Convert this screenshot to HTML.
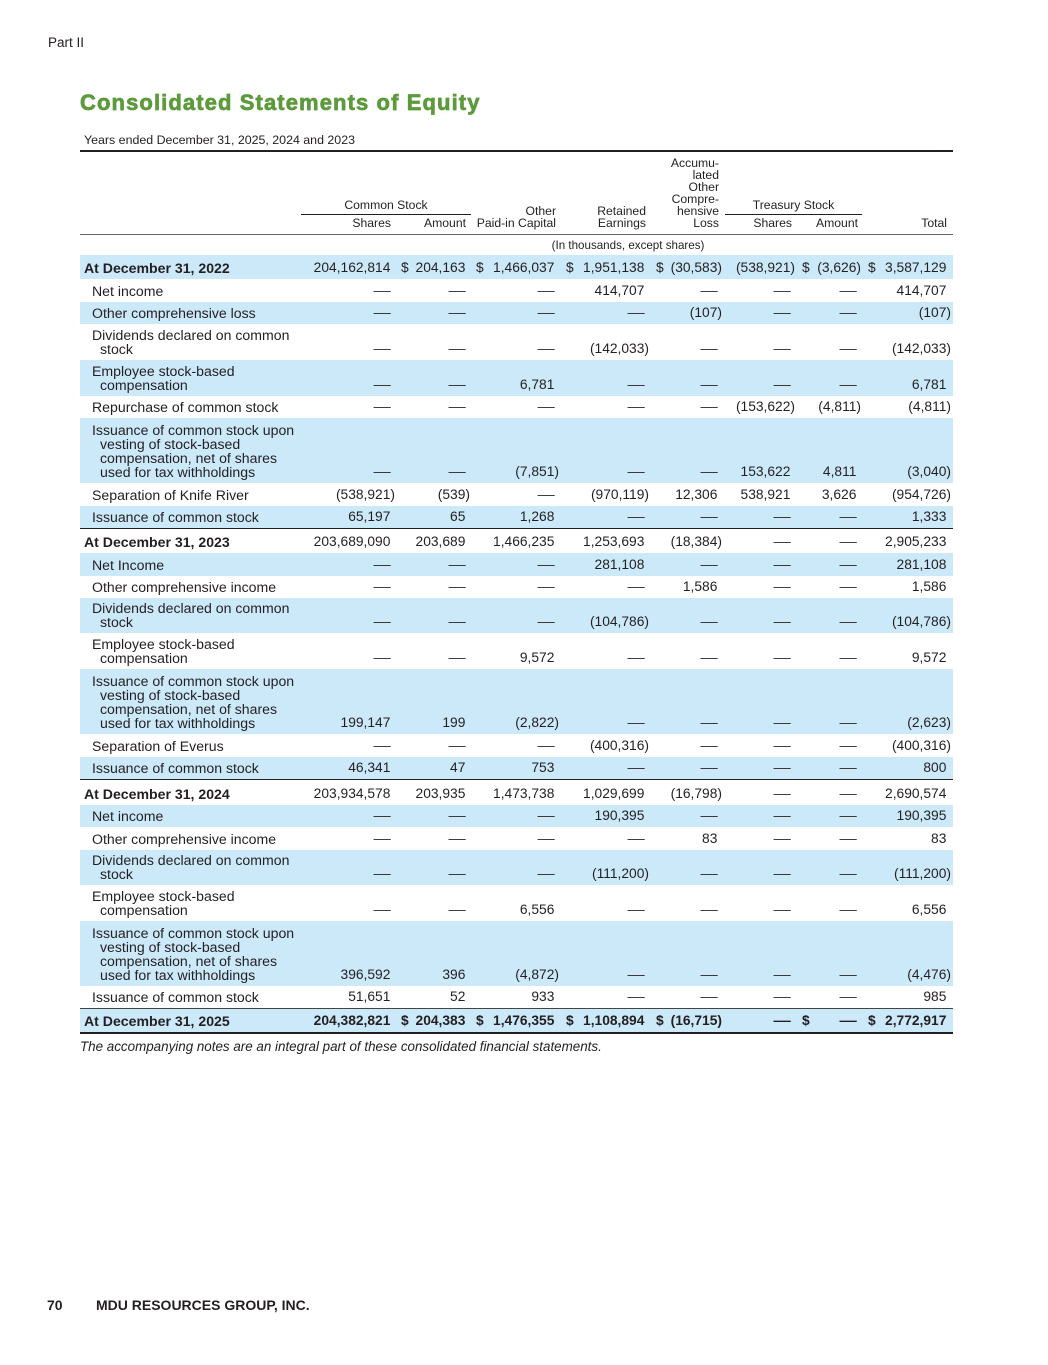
<!DOCTYPE html>
<html><head><meta charset="utf-8">
<style>
*{margin:0;padding:0;box-sizing:border-box}
html,body{width:1048px;height:1365px;background:#fff}
body{position:relative;font-family:"Liberation Sans",Arial,sans-serif;color:#231f20;overflow:hidden}
.a{position:absolute;white-space:nowrap}
.title{left:80px;top:90px;font-size:22px;line-height:26px;font-weight:bold;color:#5c9a3c;letter-spacing:1.1px;-webkit-text-stroke:0.7px #5c9a3c}
.hd{position:absolute;font-size:12.2px;line-height:12px;text-align:right;white-space:nowrap}
.rule{position:absolute;background:#231f20}
.r{position:absolute;left:80px;width:873px;font-size:13.8px}
.s{background:#cce9fa}
.l{position:absolute;left:12px;bottom:4px;line-height:14px;white-space:nowrap;font-size:14.1px}
.l .i{padding-left:8px}
.lb{left:4px;font-weight:bold}
.bold{font-weight:bold}
.n{position:absolute;bottom:4px;line-height:14px;white-space:nowrap}
.p{padding-right:.333em}
.c1{right:558px}.c2{right:483px}.c3{right:394px}.c4{right:304px}.c5{right:231px}.c6{right:158px}.c7{right:92px}.c8{right:2px}
.d{position:absolute;bottom:4px;line-height:14px}
.d2{left:321px}.d3{left:396px}.d4{left:486px}.d5{left:576px}.d7{left:722px}.d8{left:788px}
.m{display:inline-block;transform:scaleX(1.25);transform-origin:100% 50%}
</style></head><body>

<div class="a" style="left:48px;top:35px;font-size:13.5px;line-height:16px">Part II</div>
<div class="a title">Consolidated Statements of Equity</div>
<div class="a" style="left:84px;top:134px;font-size:12.4px;line-height:13px">Years ended December 31, 2025, 2024 and 2023</div>
<div class="rule" style="left:80px;top:150px;width:873px;height:2px"></div>

<!-- header -->
<div class="hd" style="left:301px;width:170px;top:199px;text-align:center">Common Stock</div>
<div class="rule" style="left:301px;top:214px;width:170px;height:1px"></div>
<div class="hd" style="left:725px;width:137px;top:199px;text-align:center">Treasury Stock</div>
<div class="rule" style="left:725px;top:214px;width:137px;height:1px"></div>
<div class="hd" style="right:329px;top:157px">Accumu-<br>lated<br>Other<br>Compre-<br>hensive<br>Loss</div>
<div class="hd" style="right:492px;top:205px">Other<br>Paid-in Capital</div>
<div class="hd" style="right:402px;top:205px">Retained<br>Earnings</div>
<div class="hd" style="right:657px;top:217px">Shares</div>
<div class="hd" style="right:582px;top:217px">Amount</div>
<div class="hd" style="right:256px;top:217px">Shares</div>
<div class="hd" style="right:190px;top:217px">Amount</div>
<div class="hd" style="right:101px;top:217px">Total</div>
<div class="rule" style="left:80px;top:234px;width:873px;height:1px;background:#666"></div>
<div class="a" style="left:528px;width:200px;text-align:center;top:239px;font-size:11.6px;line-height:13px">(In thousands, except shares)</div>

<!-- 2022 -->
<div class="r s" style="top:255px;height:24px"><div class="l lb">At December 31, 2022</div>
<span class="n c1 p">204,162,814</span>
<span class="d d2">$</span><span class="n c2 p">204,163</span>
<span class="d d3">$</span><span class="n c3 p">1,466,037</span>
<span class="d d4">$</span><span class="n c4 p">1,951,138</span>
<span class="d d5">$</span><span class="n c5">(30,583)</span>
<span class="n c6">(538,921)</span>
<span class="d d7">$</span><span class="n c7">(3,626)</span>
<span class="d d8">$</span><span class="n c8 p">3,587,129</span></div>

<div class="r" style="top:279px;height:23px"><div class="l">Net income</div>
<span class="n c1 p"><span class="m">—</span></span><span class="n c2 p"><span class="m">—</span></span><span class="n c3 p"><span class="m">—</span></span>
<span class="n c4 p">414,707</span><span class="n c5 p"><span class="m">—</span></span><span class="n c6 p"><span class="m">—</span></span><span class="n c7 p"><span class="m">—</span></span>
<span class="n c8 p">414,707</span></div>

<div class="r s" style="top:302px;height:22px"><div class="l">Other comprehensive loss</div>
<span class="n c1 p"><span class="m">—</span></span><span class="n c2 p"><span class="m">—</span></span><span class="n c3 p"><span class="m">—</span></span>
<span class="n c4 p"><span class="m">—</span></span><span class="n c5">(107)</span><span class="n c6 p"><span class="m">—</span></span><span class="n c7 p"><span class="m">—</span></span>
<span class="n c8">(107)</span></div>

<div class="r" style="top:324px;height:36px"><div class="l"><div>Dividends declared on common</div><div class="i">stock</div></div>
<span class="n c1 p"><span class="m">—</span></span><span class="n c2 p"><span class="m">—</span></span><span class="n c3 p"><span class="m">—</span></span>
<span class="n c4">(142,033)</span><span class="n c5 p"><span class="m">—</span></span><span class="n c6 p"><span class="m">—</span></span><span class="n c7 p"><span class="m">—</span></span>
<span class="n c8">(142,033)</span></div>

<div class="r s" style="top:360px;height:36px"><div class="l"><div>Employee stock-based</div><div class="i">compensation</div></div>
<span class="n c1 p"><span class="m">—</span></span><span class="n c2 p"><span class="m">—</span></span><span class="n c3 p">6,781</span>
<span class="n c4 p"><span class="m">—</span></span><span class="n c5 p"><span class="m">—</span></span><span class="n c6 p"><span class="m">—</span></span><span class="n c7 p"><span class="m">—</span></span>
<span class="n c8 p">6,781</span></div>

<div class="r" style="top:396px;height:22px"><div class="l">Repurchase of common stock</div>
<span class="n c1 p"><span class="m">—</span></span><span class="n c2 p"><span class="m">—</span></span><span class="n c3 p"><span class="m">—</span></span>
<span class="n c4 p"><span class="m">—</span></span><span class="n c5 p"><span class="m">—</span></span><span class="n c6">(153,622)</span><span class="n c7">(4,811)</span>
<span class="n c8">(4,811)</span></div>

<div class="r s" style="top:418px;height:65px"><div class="l"><div>Issuance of common stock upon</div><div class="i">vesting of stock-based</div><div class="i">compensation, net of shares</div><div class="i">used for tax withholdings</div></div>
<span class="n c1 p"><span class="m">—</span></span><span class="n c2 p"><span class="m">—</span></span><span class="n c3">(7,851)</span>
<span class="n c4 p"><span class="m">—</span></span><span class="n c5 p"><span class="m">—</span></span><span class="n c6 p">153,622</span><span class="n c7 p">4,811</span>
<span class="n c8">(3,040)</span></div>

<div class="r" style="top:483px;height:23px"><div class="l">Separation of Knife River</div>
<span class="n c1">(538,921)</span><span class="n c2">(539)</span><span class="n c3 p"><span class="m">—</span></span>
<span class="n c4">(970,119)</span><span class="n c5 p">12,306</span><span class="n c6 p">538,921</span><span class="n c7 p">3,626</span>
<span class="n c8">(954,726)</span></div>

<div class="r s" style="top:506px;height:22px"><div class="l">Issuance of common stock</div>
<span class="n c1 p">65,197</span><span class="n c2 p">65</span><span class="n c3 p">1,268</span>
<span class="n c4 p"><span class="m">—</span></span><span class="n c5 p"><span class="m">—</span></span><span class="n c6 p"><span class="m">—</span></span><span class="n c7 p"><span class="m">—</span></span>
<span class="n c8 p">1,333</span></div>
<div class="rule" style="left:80px;top:528px;width:873px;height:1px"></div>

<!-- 2023 -->
<div class="r" style="top:529px;height:24px"><div class="l lb">At December 31, 2023</div>
<span class="n c1 p">203,689,090</span><span class="n c2 p">203,689</span><span class="n c3 p">1,466,235</span>
<span class="n c4 p">1,253,693</span><span class="n c5">(18,384)</span><span class="n c6 p"><span class="m">—</span></span><span class="n c7 p"><span class="m">—</span></span>
<span class="n c8 p">2,905,233</span></div>

<div class="r s" style="top:553px;height:23px"><div class="l">Net Income</div>
<span class="n c1 p"><span class="m">—</span></span><span class="n c2 p"><span class="m">—</span></span><span class="n c3 p"><span class="m">—</span></span>
<span class="n c4 p">281,108</span><span class="n c5 p"><span class="m">—</span></span><span class="n c6 p"><span class="m">—</span></span><span class="n c7 p"><span class="m">—</span></span>
<span class="n c8 p">281,108</span></div>

<div class="r" style="top:576px;height:22px"><div class="l">Other comprehensive income</div>
<span class="n c1 p"><span class="m">—</span></span><span class="n c2 p"><span class="m">—</span></span><span class="n c3 p"><span class="m">—</span></span>
<span class="n c4 p"><span class="m">—</span></span><span class="n c5 p">1,586</span><span class="n c6 p"><span class="m">—</span></span><span class="n c7 p"><span class="m">—</span></span>
<span class="n c8 p">1,586</span></div>

<div class="r s" style="top:598px;height:35px"><div class="l"><div>Dividends declared on common</div><div class="i">stock</div></div>
<span class="n c1 p"><span class="m">—</span></span><span class="n c2 p"><span class="m">—</span></span><span class="n c3 p"><span class="m">—</span></span>
<span class="n c4">(104,786)</span><span class="n c5 p"><span class="m">—</span></span><span class="n c6 p"><span class="m">—</span></span><span class="n c7 p"><span class="m">—</span></span>
<span class="n c8">(104,786)</span></div>

<div class="r" style="top:633px;height:36px"><div class="l"><div>Employee stock-based</div><div class="i">compensation</div></div>
<span class="n c1 p"><span class="m">—</span></span><span class="n c2 p"><span class="m">—</span></span><span class="n c3 p">9,572</span>
<span class="n c4 p"><span class="m">—</span></span><span class="n c5 p"><span class="m">—</span></span><span class="n c6 p"><span class="m">—</span></span><span class="n c7 p"><span class="m">—</span></span>
<span class="n c8 p">9,572</span></div>

<div class="r s" style="top:669px;height:65px"><div class="l"><div>Issuance of common stock upon</div><div class="i">vesting of stock-based</div><div class="i">compensation, net of shares</div><div class="i">used for tax withholdings</div></div>
<span class="n c1 p">199,147</span><span class="n c2 p">199</span><span class="n c3">(2,822)</span>
<span class="n c4 p"><span class="m">—</span></span><span class="n c5 p"><span class="m">—</span></span><span class="n c6 p"><span class="m">—</span></span><span class="n c7 p"><span class="m">—</span></span>
<span class="n c8">(2,623)</span></div>

<div class="r" style="top:734px;height:23px"><div class="l">Separation of Everus</div>
<span class="n c1 p"><span class="m">—</span></span><span class="n c2 p"><span class="m">—</span></span><span class="n c3 p"><span class="m">—</span></span>
<span class="n c4">(400,316)</span><span class="n c5 p"><span class="m">—</span></span><span class="n c6 p"><span class="m">—</span></span><span class="n c7 p"><span class="m">—</span></span>
<span class="n c8">(400,316)</span></div>

<div class="r s" style="top:757px;height:22px"><div class="l">Issuance of common stock</div>
<span class="n c1 p">46,341</span><span class="n c2 p">47</span><span class="n c3 p">753</span>
<span class="n c4 p"><span class="m">—</span></span><span class="n c5 p"><span class="m">—</span></span><span class="n c6 p"><span class="m">—</span></span><span class="n c7 p"><span class="m">—</span></span>
<span class="n c8 p">800</span></div>
<div class="rule" style="left:80px;top:779px;width:873px;height:1px"></div>

<!-- 2024 -->
<div class="r" style="top:781px;height:24px"><div class="l lb">At December 31, 2024</div>
<span class="n c1 p">203,934,578</span><span class="n c2 p">203,935</span><span class="n c3 p">1,473,738</span>
<span class="n c4 p">1,029,699</span><span class="n c5">(16,798)</span><span class="n c6 p"><span class="m">—</span></span><span class="n c7 p"><span class="m">—</span></span>
<span class="n c8 p">2,690,574</span></div>

<div class="r s" style="top:805px;height:22px"><div class="l">Net income</div>
<span class="n c1 p"><span class="m">—</span></span><span class="n c2 p"><span class="m">—</span></span><span class="n c3 p"><span class="m">—</span></span>
<span class="n c4 p">190,395</span><span class="n c5 p"><span class="m">—</span></span><span class="n c6 p"><span class="m">—</span></span><span class="n c7 p"><span class="m">—</span></span>
<span class="n c8 p">190,395</span></div>

<div class="r" style="top:827px;height:23px"><div class="l">Other comprehensive income</div>
<span class="n c1 p"><span class="m">—</span></span><span class="n c2 p"><span class="m">—</span></span><span class="n c3 p"><span class="m">—</span></span>
<span class="n c4 p"><span class="m">—</span></span><span class="n c5 p">83</span><span class="n c6 p"><span class="m">—</span></span><span class="n c7 p"><span class="m">—</span></span>
<span class="n c8 p">83</span></div>

<div class="r s" style="top:850px;height:35px"><div class="l"><div>Dividends declared on common</div><div class="i">stock</div></div>
<span class="n c1 p"><span class="m">—</span></span><span class="n c2 p"><span class="m">—</span></span><span class="n c3 p"><span class="m">—</span></span>
<span class="n c4">(111,200)</span><span class="n c5 p"><span class="m">—</span></span><span class="n c6 p"><span class="m">—</span></span><span class="n c7 p"><span class="m">—</span></span>
<span class="n c8">(111,200)</span></div>

<div class="r" style="top:885px;height:36px"><div class="l"><div>Employee stock-based</div><div class="i">compensation</div></div>
<span class="n c1 p"><span class="m">—</span></span><span class="n c2 p"><span class="m">—</span></span><span class="n c3 p">6,556</span>
<span class="n c4 p"><span class="m">—</span></span><span class="n c5 p"><span class="m">—</span></span><span class="n c6 p"><span class="m">—</span></span><span class="n c7 p"><span class="m">—</span></span>
<span class="n c8 p">6,556</span></div>

<div class="r s" style="top:921px;height:65px"><div class="l"><div>Issuance of common stock upon</div><div class="i">vesting of stock-based</div><div class="i">compensation, net of shares</div><div class="i">used for tax withholdings</div></div>
<span class="n c1 p">396,592</span><span class="n c2 p">396</span><span class="n c3">(4,872)</span>
<span class="n c4 p"><span class="m">—</span></span><span class="n c5 p"><span class="m">—</span></span><span class="n c6 p"><span class="m">—</span></span><span class="n c7 p"><span class="m">—</span></span>
<span class="n c8">(4,476)</span></div>

<div class="r" style="top:986px;height:22px"><div class="l">Issuance of common stock</div>
<span class="n c1 p">51,651</span><span class="n c2 p">52</span><span class="n c3 p">933</span>
<span class="n c4 p"><span class="m">—</span></span><span class="n c5 p"><span class="m">—</span></span><span class="n c6 p"><span class="m">—</span></span><span class="n c7 p"><span class="m">—</span></span>
<span class="n c8 p">985</span></div>
<div class="rule" style="left:80px;top:1008px;width:873px;height:1px;background:#444"></div>

<!-- 2025 -->
<div class="r s bold" style="top:1009px;height:23px"><div class="l lb">At December 31, 2025</div>
<span class="n c1 p">204,382,821</span>
<span class="d d2">$</span><span class="n c2 p">204,383</span>
<span class="d d3">$</span><span class="n c3 p">1,476,355</span>
<span class="d d4">$</span><span class="n c4 p">1,108,894</span>
<span class="d d5">$</span><span class="n c5">(16,715)</span>
<span class="n c6 p"><span class="m">—</span></span>
<span class="d d7">$</span><span class="n c7 p"><span class="m">—</span></span>
<span class="d d8">$</span><span class="n c8 p">2,772,917</span></div>
<div class="rule" style="left:80px;top:1032px;width:873px;height:2px"></div>

<div class="a" style="left:80px;top:1040px;font-size:13.4px;line-height:14px;font-style:italic">The accompanying notes are an integral part of these consolidated financial statements.</div>

<div class="a" style="left:47px;top:1297px;font-size:14px;line-height:16px;font-weight:bold">70</div>
<div class="a" style="left:96px;top:1297px;font-size:14px;line-height:16px;font-weight:bold">MDU RESOURCES GROUP, INC.</div>

</body></html>
